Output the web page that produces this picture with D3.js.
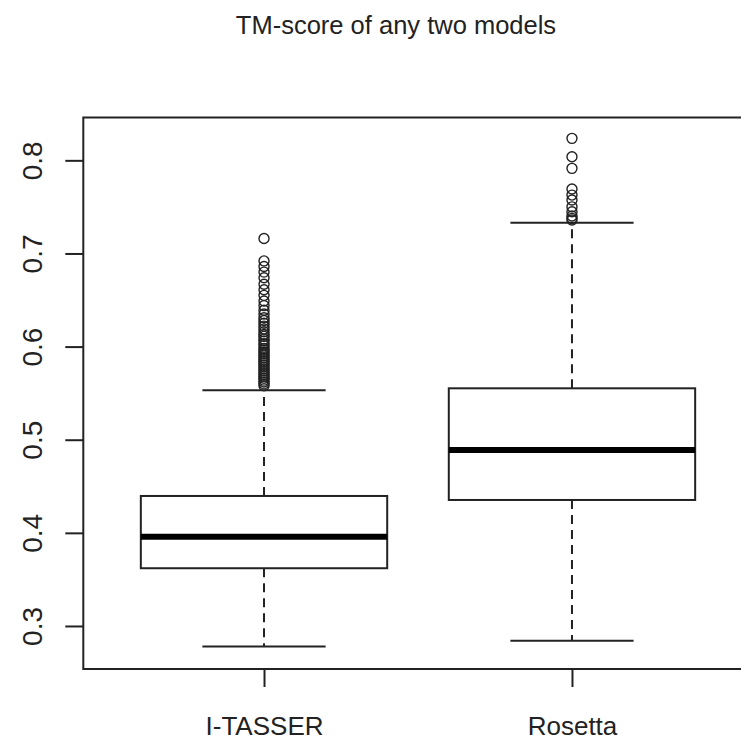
<!DOCTYPE html>
<html>
<head>
<meta charset="utf-8">
<script src="https://cdn.jsdelivr.net/npm/d3@7"></script>
<style>
  html, body { margin: 0; padding: 0; background: #fff; }
  svg { display: block; }
  text { font-family: "Liberation Sans", Arial, sans-serif; fill: #222; }
</style>
</head>
<body>
<svg id="chart" width="741" height="744"></svg>
<script>
// ---- data ----
const title = "TM-score of any two models";
const categories = ["I-TASSER", "Rosetta"];
const whiskerLow  = [0.278, 0.2842];
const q1          = [0.362, 0.4353];
const median      = [0.3959, 0.489];
const q3          = [0.4396, 0.5552];
const whiskerHigh = [0.553, 0.733];
const outliersITASSER = [0.716, 0.692, 0.686, 0.680, 0.674, 0.667, 0.661, 0.655, 0.649, 0.644,
  0.639, 0.635, 0.631, 0.628, 0.625, 0.622, 0.619, 0.616, 0.613, 0.611, 0.608, 0.606, 0.603,
  0.601, 0.598, 0.596, 0.594, 0.592, 0.590, 0.588, 0.586, 0.584, 0.582, 0.580, 0.578, 0.576,
  0.574, 0.572, 0.570, 0.568, 0.566, 0.564, 0.562, 0.560, 0.558];
const outliersRosetta = [0.8236, 0.8039, 0.7914, 0.7692, 0.7627, 0.7574, 0.7500, 0.7448,
  0.7402, 0.7377, 0.7360];
const outliers = [outliersITASSER, outliersRosetta];
const yTicks = [0.3, 0.4, 0.5, 0.6, 0.7, 0.8];

// ---- layout ----
const svg = d3.select("#chart");
const frame = { left: 83.3, right: 750.6, top: 117.5, bottom: 669 };

const y = d3.scaleLinear().domain([0.2538, 0.846]).range([frame.bottom, frame.top]);
const x = d3.scaleLinear().domain([0.4132, 2.58]).range([frame.left, frame.right]);
const boxHalf = 0.4, capHalf = 0.2;
const ink = "#222";

// frame
svg.append("rect")
  .attr("x", frame.left).attr("y", frame.top)
  .attr("width", frame.right - frame.left).attr("height", frame.bottom - frame.top)
  .attr("fill", "none").attr("stroke", ink).attr("stroke-width", 2);

// y axis
const yAxis = svg.append("g")
  .attr("transform", `translate(${frame.left},0)`)
  .call(d3.axisLeft(y).tickValues(yTicks).tickSize(18).tickFormat(d3.format(".1f")));
yAxis.select(".domain").remove();
yAxis.selectAll(".tick line").attr("stroke", ink).attr("stroke-width", 2);
yAxis.selectAll(".tick text")
  .attr("x", null).attr("dy", null)
  .attr("transform", "translate(-41,0) rotate(-90)")
  .attr("text-anchor", "middle")
  .style("font-size", "28px")
  .style("font-family", "'Liberation Sans', Arial, sans-serif")
  .attr("fill", ink);

// x axis
const xAxis = svg.append("g")
  .attr("transform", `translate(0,${frame.bottom})`)
  .call(d3.axisBottom(x).tickValues([1, 2]).tickSize(18).tickFormat((d) => categories[d - 1]));
xAxis.select(".domain").remove();
xAxis.selectAll(".tick line").attr("stroke", ink).attr("stroke-width", 2);
xAxis.selectAll(".tick text")
  .attr("y", 66).attr("dy", null)
  .style("font-size", "26px")
  .style("font-family", "'Liberation Sans', Arial, sans-serif")
  .attr("fill", ink);

// boxes
const idx = categories.map((c, i) => i);
const g = svg.append("g");
idx.forEach((i) => {
  const cx = x(i + 1);
  const bl = x(i + 1 - boxHalf), br = x(i + 1 + boxHalf);
  const cl = x(i + 1 - capHalf), cr = x(i + 1 + capHalf);
  // whiskers (dashed)
  g.append("line").attr("x1", cx).attr("x2", cx)
    .attr("y1", y(q3[i])).attr("y2", y(whiskerHigh[i]))
    .attr("stroke", ink).attr("stroke-width", 2).attr("stroke-dasharray", "9,6");
  g.append("line").attr("x1", cx).attr("x2", cx)
    .attr("y1", y(q1[i])).attr("y2", y(whiskerLow[i]))
    .attr("stroke", ink).attr("stroke-width", 2).attr("stroke-dasharray", "9,6");
  // caps
  g.append("line").attr("x1", cl).attr("x2", cr)
    .attr("y1", y(whiskerHigh[i])).attr("y2", y(whiskerHigh[i]))
    .attr("stroke", ink).attr("stroke-width", 2);
  g.append("line").attr("x1", cl).attr("x2", cr)
    .attr("y1", y(whiskerLow[i])).attr("y2", y(whiskerLow[i]))
    .attr("stroke", ink).attr("stroke-width", 2);
  // box
  g.append("rect").attr("x", bl).attr("y", y(q3[i]))
    .attr("width", br - bl).attr("height", y(q1[i]) - y(q3[i]))
    .attr("fill", "#fff").attr("stroke", ink).attr("stroke-width", 2);
  // median
  g.append("line").attr("x1", bl).attr("x2", br)
    .attr("y1", y(median[i])).attr("y2", y(median[i]))
    .attr("stroke", "#000").attr("stroke-width", 6);
  // outliers
  g.selectAll(null).data(outliers[i]).enter().append("circle")
    .attr("cx", cx).attr("cy", (d) => y(d)).attr("r", 5)
    .attr("fill", "none").attr("stroke", ink).attr("stroke-width", 1.4);
});

// title
svg.append("text")
  .attr("x", x(1.5) - 22).attr("y", 34)
  .attr("text-anchor", "middle")
  .style("font-size", "25.5px")
  .attr("fill", "#333")
  .text(title);
</script>
</body>
</html>
